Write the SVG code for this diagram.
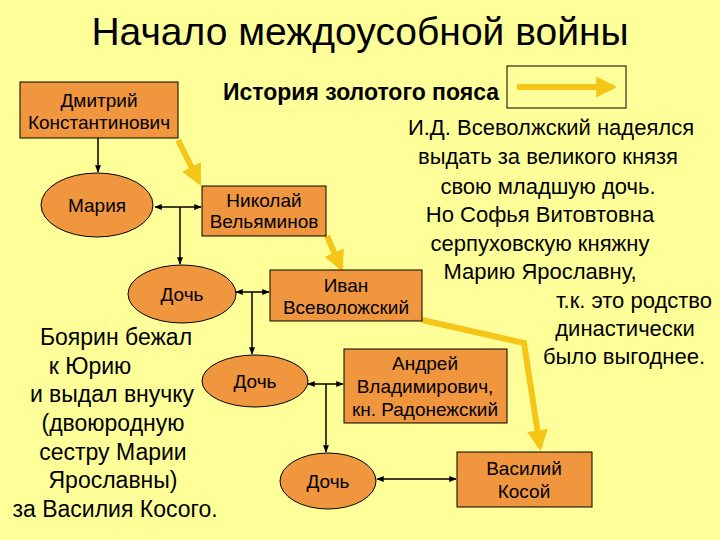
<svg xmlns="http://www.w3.org/2000/svg" width="720" height="540" viewBox="0 0 720 540">
<style>
.n{fill:#F0963F;stroke:#000;stroke-width:1}
.t{font-family:"Liberation Sans",Arial,sans-serif;font-size:19px;fill:#000;text-anchor:middle}
.b{font-family:"Liberation Sans",Arial,sans-serif;font-size:22px;fill:#000;text-anchor:middle}
.k{stroke:#000;stroke-width:1.5;fill:none}
.y{stroke:#F5C518;stroke-width:6;fill:none}
</style>
<defs>
<marker id="a" viewBox="0 0 10 10" refX="9" refY="5" markerWidth="5" markerHeight="5" orient="auto-start-reverse"><path d="M0,1 L10,5 L0,9 z" fill="#000"/></marker>
<marker id="ya" viewBox="0 0 10 10" refX="8" refY="5" markerWidth="3.5" markerHeight="3.5" orient="auto"><path d="M0,0 L10,5 L0,10 z" fill="#F5C518"/></marker>
</defs>
<rect width="720" height="540" fill="#FFFF99"/>
<text x="360" y="45" class="b" style="font-size:39px">Начало междоусобной войны</text>
<text x="361" y="100" class="b" style="font-weight:bold;font-size:23px">История золотого пояса</text>
<g id="legend"><rect x="507" y="66" width="119" height="42" fill="none" stroke="#000"/><line x1="517" y1="87" x2="613" y2="87" class="y" marker-end="url(#ya)"/></g>
<g class="b">
<text x="551" y="135">И.Д. Всеволжский надеялся</text>
<text x="548" y="164">выдать за великого князя</text>
<text x="548" y="194">свою младшую дочь.</text>
<text x="540" y="222">Но Софья Витовтовна</text>
<text x="540" y="251">серпуховскую княжну</text>
<text x="540" y="279">Марию Ярославну,</text>
<text x="712" y="308" style="text-anchor:end">т.к. это родство</text>
<text x="625" y="336">династически</text>
<text x="624" y="364">было выгоднее.</text>
</g>
<g class="b" style="font-size:23px">
<text x="116" y="345">Боярин  бежал</text>
<text x="90" y="374">к Юрию</text>
<text x="112" y="402">и выдал внучку</text>
<text x="113" y="431">(двоюродную</text>
<text x="113" y="460">сестру Марии</text>
<text x="113" y="488">Ярославны)</text>
<text x="115" y="517">за Василия Косого.</text>
</g>
<g id="connectors">
<line x1="98" y1="138" x2="98" y2="172" class="k" marker-end="url(#a)"/>
<line x1="155" y1="207" x2="201" y2="207" class="k" marker-start="url(#a)" marker-end="url(#a)"/>
<line x1="180" y1="207" x2="180" y2="264" class="k" marker-end="url(#a)"/>
<line x1="236" y1="292" x2="269" y2="292" class="k" marker-start="url(#a)" marker-end="url(#a)"/>
<line x1="252" y1="292" x2="252" y2="354" class="k" marker-end="url(#a)"/>
<line x1="308" y1="384" x2="343" y2="384" class="k" marker-start="url(#a)" marker-end="url(#a)"/>
<line x1="326" y1="384" x2="326" y2="452" class="k" marker-end="url(#a)"/>
<line x1="377" y1="479" x2="456" y2="479" class="k" marker-start="url(#a)" marker-end="url(#a)"/>
<polyline points="178,140 199,182" class="y" marker-end="url(#ya)"/>
<polyline points="327,236 341,268" class="y" marker-end="url(#ya)"/>
<polyline points="422,320 524,343 540,447" class="y" marker-end="url(#ya)"/>
</g>
<g id="dmitry"><rect x="20" y="82" width="158" height="56" class="n"/><text x="99" y="107" class="t">Дмитрий</text><text x="99" y="129" class="t">Константинович</text></g>
<g id="maria"><ellipse cx="97" cy="205" rx="56" ry="32" class="n"/><text x="97" y="212" class="t">Мария</text></g>
<g id="nikolai"><rect x="202" y="186" width="124" height="50" class="n"/><text x="264" y="207" class="t">Николай</text><text x="264" y="228" class="t">Вельяминов</text></g>
<g id="doch1"><ellipse cx="182" cy="294" rx="54" ry="29" class="n"/><text x="182" y="301" class="t">Дочь</text></g>
<g id="ivan"><rect x="270" y="270" width="152" height="51" class="n"/><text x="346" y="292" class="t">Иван</text><text x="346" y="314" class="t">Всеволожский</text></g>
<g id="doch2"><ellipse cx="255" cy="381" rx="53" ry="26" class="n"/><text x="255" y="388" class="t">Дочь</text></g>
<g id="andrey"><rect x="344" y="349" width="163" height="74" class="n"/><text x="425" y="370" class="t">Андрей</text><text x="425" y="393" class="t">Владимирович,</text><text x="425" y="416" class="t">кн. Радонежский</text></g>
<g id="doch3"><ellipse cx="328" cy="481" rx="48" ry="28" class="n"/><text x="328" y="488" class="t">Дочь</text></g>
<g id="vasily"><rect x="457" y="452" width="135" height="55" class="n"/><text x="524" y="475" class="t">Василий</text><text x="524" y="498" class="t">Косой</text></g>
</svg>
